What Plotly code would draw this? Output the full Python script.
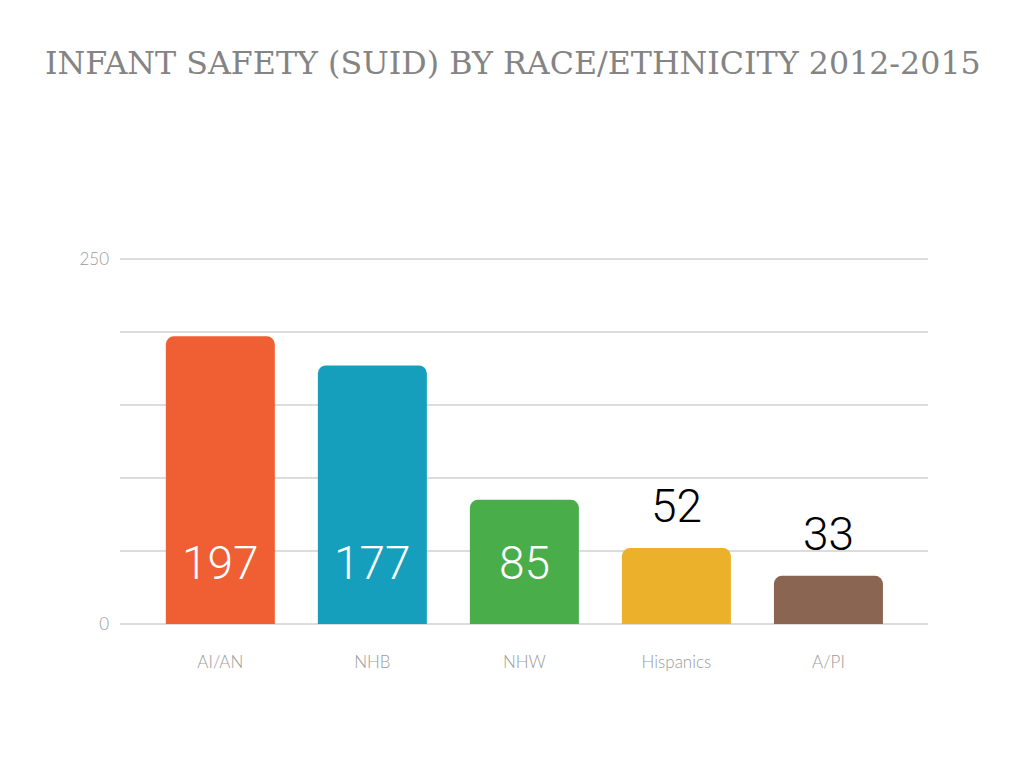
import plotly.graph_objects as go

categories = ["AI/AN", "NHB", "NHW", "Hispanics", "A/PI"]
values = [197, 177, 85, 52, 33]
colors = ["#F05E33", "#159FBC", "#49AD4A", "#EBB12A", "#8A6551"]
label_inside = [True, True, True, False, False]
y_tickvals = [0, 50, 100, 150, 200, 250]
y_ticktext = ["0", "", "", "", "", "250"]

num_font = "Roboto, DejaVu Sans Condensed"

fig = go.Figure()
fig.add_trace(go.Bar(
    x=categories, y=values,
    marker=dict(color=colors, cornerradius=8, line=dict(width=0)),
    width=0.717, hoverinfo="skip",
))

annotations = []
for c, v, inside in zip(categories, values, label_inside):
    if inside:
        annotations.append(dict(x=c, y=0, xref="x", yref="y", text=str(v), showarrow=False,
                                yanchor="bottom", yshift=32,
                                font=dict(family=num_font, size=46, color="white", weight=300)))
    else:
        annotations.append(dict(x=c, y=v, xref="x", yref="y", text=str(v), showarrow=False,
                                yanchor="bottom", yshift=13,
                                font=dict(family=num_font, size=46, color="black", weight=300)))

fig.update_layout(
    width=1024, height=768,
    paper_bgcolor="white", plot_bgcolor="white",
    margin=dict(l=112, r=104, t=248, b=152),
    title=dict(text="INFANT SAFETY (SUID) BY RACE/ETHNICITY 2012-2015",
               x=0.493, xanchor="center", y=1 - 55 / 768, yanchor="middle",
               font=dict(family="DejaVu Serif", size=31.7, color="#848484")),
    showlegend=False,
    annotations=annotations,
    xaxis=dict(range=[-0.66, 4.655], showgrid=False, zeroline=False, showline=False,
               ticks="", ticklabelstandoff=26,
               tickfont=dict(family="Lato", size=17, color="#9a9a9a", weight=300)),
    yaxis=dict(range=[0, 252], tickvals=y_tickvals, ticktext=y_ticktext,
               showgrid=True, gridcolor="#dcdcdc", gridwidth=2,
               zeroline=True, zerolinecolor="#dcdcdc", zerolinewidth=2,
               showline=False, ticks="", ticklabelstandoff=10,
               tickfont=dict(family="Lato", size=17, color="#9a9a9a", weight=300)),
)

fig.write_html("out.html")
